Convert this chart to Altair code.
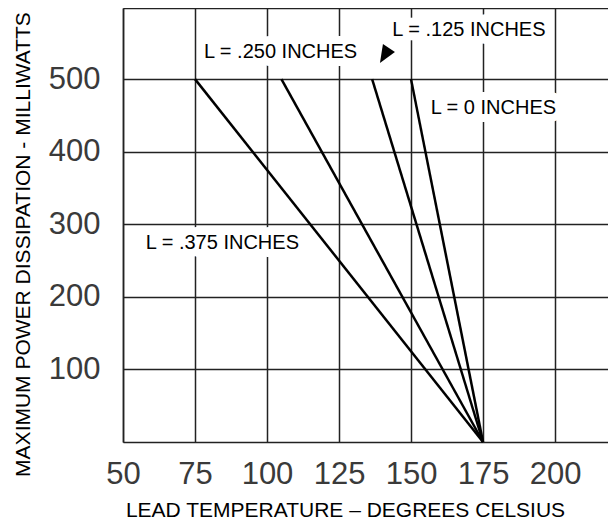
import altair as alt
import pandas as pd

# Data
leads = ["L = .375 INCHES", "L = .250 INCHES", "L = .125 INCHES", "L = 0 INCHES"]
start_temp = [75, 105, 136.5, 150]     # temperature where derating begins (at 500 mW)
max_power = 500                         # mW
end_temp = 175                          # temperature where power reaches 0

x_ticks = [50, 75, 100, 125, 150, 175, 200]
y_ticks = [100, 200, 300, 400, 500, 598]

# annotation anchors (data coordinates)
label_temp = [84.5, 104.7, 170.1, 178.6]
label_power = [274, 537, 567.5, 460]
arrow_temp = [141.3]
arrow_power = [536]

rows = []
for lead, t0 in zip(leads, start_temp):
    rows.append({"lead": lead, "temp": t0, "power": max_power, "o": 0})
    rows.append({"lead": lead, "temp": end_temp, "power": 0, "o": 1})
lines_df = pd.DataFrame(rows)
labels_df = pd.DataFrame({"lead": leads, "temp": label_temp, "power": label_power})
arrow_df = pd.DataFrame({"temp": arrow_temp, "power": arrow_power})

FONT = "Liberation Sans"

x_enc = alt.X(
    "temp:Q",
    scale=alt.Scale(domain=[50, 218.4], nice=False, zero=False),
    axis=alt.Axis(
        values=x_ticks, ticks=False, labelPadding=17, labelFontSize=31,
        labelColor="#3a3a3a", labelFont=FONT, labelFlush=False, labelOverlap=False,
        domainColor="#222", domainWidth=1.5, gridColor="#222", gridWidth=1.5,
        gridOpacity=1,
        title="LEAD TEMPERATURE – DEGREES CELSIUS", titleFont=FONT,
        titleFontSize=21, titleFontWeight="normal", titleColor="#000",
        titleX=222, titleY=68, titleAlign="center", titleBaseline="middle",
    ),
)
y_enc = alt.Y(
    "power:Q",
    scale=alt.Scale(domain=[0, 598], nice=False, zero=True),
    axis=alt.Axis(
        values=y_ticks, ticks=False, labelPadding=23, labelFontSize=31,
        labelColor="#3a3a3a", labelFont=FONT, labelOverlap=False,
        labelExpr="datum.value > 550 ? '' : datum.label",
        domainColor="#222", domainWidth=1.5, gridColor="#222", gridWidth=1.5,
        gridOpacity=1,
        title="MAXIMUM POWER DISSIPATION - MILLIWATTS", titleFont=FONT,
        titleFontSize=21, titleFontWeight="normal", titleColor="#000",
        titleAngle=270, titleX=-100, titleY=236, titleAlign="center",
        titleBaseline="middle",
    ),
)

halo = alt.Chart(labels_df).mark_text(
    font=FONT, fontSize=20, color="white", stroke="white", strokeWidth=16,
    strokeJoin="round", align="center", baseline="middle",
).encode(x=x_enc, y=y_enc, text="lead:N")

lines = alt.Chart(lines_df).mark_line(color="black", strokeWidth=2.5).encode(
    x=x_enc, y=y_enc, detail="lead:N", order="o:Q"
)

text = alt.Chart(labels_df).mark_text(
    font=FONT, fontSize=20, color="black", align="center", baseline="middle",
).encode(x=x_enc, y=y_enc, text="lead:N")

arrow = alt.Chart(arrow_df).mark_point(
    shape="M-0.3,-0.9L0.9,-0.1L-0.6,1Z", size=400, filled=True,
    color="black", opacity=1,
).encode(x=x_enc, y=y_enc)

chart = (
    alt.layer(halo, lines, text, arrow)
    .properties(
        width=485, height=434,
        autosize=alt.AutoSizeParams(type="none"),
        padding={"left": 115, "top": 0, "right": 0, "bottom": 80},
        background="white",
    )
    .configure_view(stroke=None)
)

chart.save("out.html", embed_options={"renderer": "svg", "actions": False})
